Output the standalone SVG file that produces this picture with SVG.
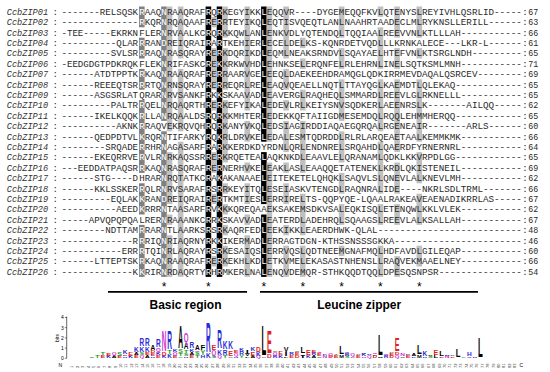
<svg xmlns="http://www.w3.org/2000/svg" width="550" height="372" viewBox="0 0 550 372">
<style>
#alignment text{font-family:"Liberation Mono",monospace;font-size:9.15px}
.s{fill:#2a2a2a}
.w{fill:#fff}
.lab{font-style:italic;fill:#333}
.b{fill:#000}.d{fill:#808080}.l{fill:#c0c0c0}
.star{font-family:"Liberation Sans",Arial,sans-serif;font-size:12px;text-anchor:middle;fill:#000}
.reg{font-family:"Liberation Sans",Arial,sans-serif;font-size:12px;font-weight:bold;text-anchor:middle;fill:#000}
.lg{font-family:"Liberation Sans",Arial,sans-serif;font-weight:bold;font-size:9.1px;text-anchor:middle}
.B{fill:#2b2bd6}.Rd{fill:#e02020}.M{fill:#cc33cc}.G{fill:#2a9d2a}.K{fill:#000}
.ax{font-family:"Liberation Sans",Arial,sans-serif;font-size:5px;fill:#000}
.pn{font-family:"Liberation Sans",Arial,sans-serif;font-size:4px;fill:#333}
</style>
<rect width="550" height="372" fill="#fff"/>
<g id="shading">
<g class="d">
<rect x="139" y="6.5" width="5.6" height="20.8"/><rect x="139" y="37.7" width="5.6" height="20.8"/><rect x="139" y="68.9" width="5.6" height="20.8"/><rect x="139" y="100.1" width="5.6" height="72.8"/><rect x="139" y="183.3" width="5.6" height="31.2"/><rect x="139" y="224.9" width="5.6" height="52"/>
<rect x="161.2" y="6.5" width="5.6" height="114.4"/><rect x="161.2" y="131.3" width="5.6" height="145.6"/>
</g>
<g class="b">
<rect x="205.6" y="6.5" width="5.6" height="270.4"/><rect x="216.7" y="6.5" width="5.6" height="270.4"/>
<rect x="261.1" y="6.5" width="5.6" height="135.2"/><rect x="261.1" y="152.1" width="5.6" height="52"/><rect x="261.1" y="214.5" width="5.6" height="62.4"/>
</g>
<g class="l">
<rect x="166.75" y="6.5" width="5.6" height="124.8"/><rect x="166.75" y="152.1" width="5.6" height="52"/><rect x="166.75" y="214.5" width="5.6" height="10.4"/><rect x="166.75" y="235.3" width="5.6" height="41.6"/>
<rect x="177.85" y="6.5" width="5.6" height="52"/><rect x="177.85" y="68.9" width="5.6" height="62.4"/><rect x="177.85" y="141.7" width="5.6" height="135.2"/>
<rect x="211.15" y="16.9" width="5.6" height="10.4"/><rect x="211.15" y="48.1" width="5.6" height="41.6"/><rect x="211.15" y="100.1" width="5.6" height="10.4"/><rect x="211.15" y="152.1" width="5.6" height="20.8"/><rect x="211.15" y="193.7" width="5.6" height="10.4"/><rect x="211.15" y="256.1" width="5.6" height="10.4"/>
<rect x="222.25" y="6.5" width="5.6" height="31.2"/><rect x="222.25" y="48.1" width="5.6" height="41.6"/><rect x="222.25" y="100.1" width="5.6" height="62.4"/><rect x="222.25" y="183.3" width="5.6" height="10.4"/><rect x="222.25" y="204.1" width="5.6" height="10.4"/><rect x="222.25" y="224.9" width="5.6" height="10.4"/><rect x="222.25" y="245.7" width="5.6" height="20.8"/>
<rect x="244.45" y="6.5" width="5.6" height="104"/><rect x="244.45" y="120.9" width="5.6" height="20.8"/><rect x="244.45" y="162.5" width="5.6" height="10.4"/><rect x="244.45" y="183.3" width="5.6" height="20.8"/><rect x="244.45" y="214.5" width="5.6" height="10.4"/><rect x="244.45" y="235.3" width="5.6" height="41.6"/>
<rect x="266.65" y="6.5" width="5.6" height="135.2"/><rect x="266.65" y="162.5" width="5.6" height="114.4"/>
<rect x="283.3" y="6.5" width="5.6" height="52"/><rect x="283.3" y="68.9" width="5.6" height="20.8"/><rect x="283.3" y="100.1" width="5.6" height="10.4"/><rect x="283.3" y="120.9" width="5.6" height="31.2"/><rect x="283.3" y="162.5" width="5.6" height="10.4"/><rect x="283.3" y="183.3" width="5.6" height="20.8"/><rect x="283.3" y="224.9" width="5.6" height="10.4"/><rect x="283.3" y="245.7" width="5.6" height="31.2"/>
<rect x="299.95" y="37.7" width="5.6" height="10.4"/><rect x="299.95" y="58.5" width="5.6" height="10.4"/><rect x="299.95" y="89.7" width="5.6" height="20.8"/><rect x="299.95" y="120.9" width="5.6" height="52"/><rect x="299.95" y="193.7" width="5.6" height="41.6"/><rect x="299.95" y="245.7" width="5.6" height="31.2"/>
<rect x="338.8" y="6.5" width="5.6" height="31.2"/><rect x="338.8" y="48.1" width="5.6" height="20.8"/><rect x="338.8" y="79.3" width="5.6" height="41.6"/><rect x="338.8" y="131.3" width="5.6" height="31.2"/><rect x="338.8" y="172.9" width="5.6" height="20.8"/><rect x="338.8" y="204.1" width="5.6" height="20.8"/><rect x="338.8" y="245.7" width="5.6" height="10.4"/>
<rect x="377.65" y="6.5" width="5.6" height="10.4"/><rect x="377.65" y="27.3" width="5.6" height="41.6"/><rect x="377.65" y="79.3" width="5.6" height="52"/><rect x="377.65" y="141.7" width="5.6" height="52"/><rect x="377.65" y="204.1" width="5.6" height="20.8"/><rect x="377.65" y="245.7" width="5.6" height="31.2"/>
<rect x="394.3" y="6.5" width="5.6" height="31.2"/><rect x="394.3" y="48.1" width="5.6" height="20.8"/><rect x="394.3" y="79.3" width="5.6" height="72.8"/><rect x="394.3" y="162.5" width="5.6" height="31.2"/><rect x="394.3" y="204.1" width="5.6" height="20.8"/><rect x="394.3" y="256.1" width="5.6" height="20.8"/>
<rect x="416.5" y="6.5" width="5.6" height="31.2"/><rect x="416.5" y="48.1" width="5.6" height="10.4"/><rect x="416.5" y="79.3" width="5.6" height="62.4"/><rect x="416.5" y="152.1" width="5.6" height="31.2"/><rect x="416.5" y="193.7" width="5.6" height="31.2"/><rect x="416.5" y="245.7" width="5.6" height="20.8"/>
</g>
</g>
<g id="alignment">
<g id="r01" transform="translate(0,14.8)"><text class="lab" x="6.7" textLength="41.5" lengthAdjust="spacingAndGlyphs">CcbZIP01</text><text class="s" x="52.5">:</text><text class="s" x="61.45">-------RELSQSK</text><text class="w" x="139.15">R</text><text class="s" x="144.7">AAQ</text><text class="w" x="161.35">N</text><text class="s" x="166.9">RAAQRAF</text><text class="w" x="205.75">R</text><text class="s" x="211.3">Q</text><text class="w" x="216.85">R</text><text class="s" x="222.4">KEGYIKK</text><text class="w" x="261.25">L</text><text class="s" x="266.8" textLength="255" lengthAdjust="spacingAndGlyphs">EQQVR----DYGEMEQQFKVLQTENYSLREYIVHLQSRLID-----</text><text class="s" x="522.3">:</text><text class="s" x="528.3" textLength="10" lengthAdjust="spacingAndGlyphs">67</text></g>
<g id="r02" transform="translate(0,25.2)"><text class="lab" x="6.7" textLength="41.5" lengthAdjust="spacingAndGlyphs">CcbZIP02</text><text class="s" x="52.5">:</text><text class="s" x="61.45">--------------</text><text class="w" x="139.15">R</text><text class="s" x="144.7">KQR</text><text class="w" x="161.35">N</text><text class="s" x="166.9">RQAQAAF</text><text class="w" x="205.75">R</text><text class="s" x="211.3">E</text><text class="w" x="216.85">R</text><text class="s" x="222.4">RTEYIKQ</text><text class="w" x="261.25">L</text><text class="s" x="266.8" textLength="255" lengthAdjust="spacingAndGlyphs">EQTISVQEQTLANLNAAHRTAADECLMLRYKNSLLERILL------</text><text class="s" x="522.3">:</text><text class="s" x="528.3" textLength="10" lengthAdjust="spacingAndGlyphs">63</text></g>
<g id="r03" transform="translate(0,35.6)"><text class="lab" x="6.7" textLength="41.5" lengthAdjust="spacingAndGlyphs">CcbZIP03</text><text class="s" x="52.5">:</text><text class="s" x="61.45">-TEE-----EKRKN</text><text class="s" x="139.15">F</text><text class="s" x="144.7">LER</text><text class="w" x="161.35">N</text><text class="s" x="166.9">RVAALKC</text><text class="w" x="205.75">R</text><text class="s" x="211.3">Q</text><text class="w" x="216.85">R</text><text class="s" x="222.4">KKQWLAN</text><text class="w" x="261.25">L</text><text class="s" x="266.8" textLength="255" lengthAdjust="spacingAndGlyphs">ENKVDLYQTENDQLTQQIAALREEVVNLKTLLLAH-----------</text><text class="s" x="522.3">:</text><text class="s" x="528.3" textLength="10" lengthAdjust="spacingAndGlyphs">66</text></g>
<g id="r04" transform="translate(0,46)"><text class="lab" x="6.7" textLength="41.5" lengthAdjust="spacingAndGlyphs">CcbZIP04</text><text class="s" x="52.5">:</text><text class="s" x="61.45">----------QLAR</text><text class="w" x="139.15">R</text><text class="s" x="144.7">RAN</text><text class="w" x="161.35">D</text><text class="s" x="166.9">REIQRAI</text><text class="w" x="205.75">R</text><text class="s" x="211.3">A</text><text class="w" x="216.85">R</text><text class="s" x="222.4">TKEHIER</text><text class="w" x="261.25">L</text><text class="s" x="266.8" textLength="255" lengthAdjust="spacingAndGlyphs">ECELDELKS-KQNRDETVQDLLLKRNKALECE---LKR-L------</text><text class="s" x="522.3">:</text><text class="s" x="528.3" textLength="10" lengthAdjust="spacingAndGlyphs">61</text></g>
<g id="r05" transform="translate(0,56.4)"><text class="lab" x="6.7" textLength="41.5" lengthAdjust="spacingAndGlyphs">CcbZIP05</text><text class="s" x="52.5">:</text><text class="s" x="61.45">---------SVLSR</text><text class="w" x="139.15">R</text><text class="s" x="144.7">RAQ</text><text class="w" x="161.35">N</text><text class="s" x="166.9">RASQRAY</text><text class="w" x="205.75">R</text><text class="s" x="211.3">E</text><text class="w" x="216.85">R</text><text class="s" x="222.4">KDQRIKD</text><text class="w" x="261.25">L</text><text class="s" x="266.8" textLength="255" lengthAdjust="spacingAndGlyphs">EQMLNEAKSRNDVLSQAYAELHTEFVNLKTSRGLNDH---------</text><text class="s" x="522.3">:</text><text class="s" x="528.3" textLength="10" lengthAdjust="spacingAndGlyphs">65</text></g>
<g id="r06" transform="translate(0,66.8)"><text class="lab" x="6.7" textLength="41.5" lengthAdjust="spacingAndGlyphs">CcbZIP06</text><text class="s" x="52.5">:</text><text class="s" x="61.45">-EEDGDGTPDKRQK</text><text class="s" x="139.15">F</text><text class="s" x="144.7">LEK</text><text class="w" x="161.35">N</text><text class="s" x="166.9">RIFASKC</text><text class="w" x="205.75">R</text><text class="s" x="211.3">E</text><text class="w" x="216.85">K</text><text class="s" x="222.4">KRKWVHD</text><text class="w" x="261.25">L</text><text class="s" x="266.8" textLength="255" lengthAdjust="spacingAndGlyphs">EHNKSELERQNFELRLEHRNLINELSQTKSMLMNH-----------</text><text class="s" x="522.3">:</text><text class="s" x="528.3" textLength="10" lengthAdjust="spacingAndGlyphs">71</text></g>
<g id="r07" transform="translate(0,77.2)"><text class="lab" x="6.7" textLength="41.5" lengthAdjust="spacingAndGlyphs">CcbZIP07</text><text class="s" x="52.5">:</text><text class="s" x="61.45">------ATDTPPTK</text><text class="w" x="139.15">R</text><text class="s" x="144.7">KAQ</text><text class="w" x="161.35">N</text><text class="s" x="166.9">RAAQRAF</text><text class="w" x="205.75">R</text><text class="s" x="211.3">E</text><text class="w" x="216.85">R</text><text class="s" x="222.4">RAARVGE</text><text class="w" x="261.25">L</text><text class="s" x="266.8" textLength="255" lengthAdjust="spacingAndGlyphs">EEQLDAEKEEHDRAMQGLQDKIRRMEVDAQALQSRCEV--------</text><text class="s" x="522.3">:</text><text class="s" x="528.3" textLength="10" lengthAdjust="spacingAndGlyphs">69</text></g>
<g id="r08" transform="translate(0,87.6)"><text class="lab" x="6.7" textLength="41.5" lengthAdjust="spacingAndGlyphs">CcbZIP08</text><text class="s" x="52.5">:</text><text class="s" x="61.45">------REEEQTSR</text><text class="w" x="139.15">R</text><text class="s" x="144.7">RTQ</text><text class="w" x="161.35">N</text><text class="s" x="166.9">RNSQRAY</text><text class="w" x="205.75">R</text><text class="s" x="211.3">E</text><text class="w" x="216.85">R</text><text class="s" x="222.4">REQRLRE</text><text class="w" x="261.25">L</text><text class="s" x="266.8" textLength="255" lengthAdjust="spacingAndGlyphs">EAQVQEAELLNQTLTTAYQGLKAEMDTLQLEKAQ------------</text><text class="s" x="522.3">:</text><text class="s" x="528.3" textLength="10" lengthAdjust="spacingAndGlyphs">65</text></g>
<g id="r09" transform="translate(0,98)"><text class="lab" x="6.7" textLength="41.5" lengthAdjust="spacingAndGlyphs">CcbZIP09</text><text class="s" x="52.5">:</text><text class="s" x="61.45">------ASGSRLAT</text><text class="s" x="139.15">Q</text><text class="s" x="144.7">RAR</text><text class="w" x="161.35">N</text><text class="s" x="166.9">RVSANKF</text><text class="w" x="205.75">R</text><text class="s" x="211.3">K</text><text class="w" x="216.85">K</text><text class="s" x="222.4">SKAAVAD</text><text class="w" x="261.25">L</text><text class="s" x="266.8" textLength="255" lengthAdjust="spacingAndGlyphs">EAVERGLRAQHEQLSMMARDLREEVLGLRKNELLL-----------</text><text class="s" x="522.3">:</text><text class="s" x="528.3" textLength="10" lengthAdjust="spacingAndGlyphs">65</text></g>
<g id="r10" transform="translate(0,108.4)"><text class="lab" x="6.7" textLength="41.5" lengthAdjust="spacingAndGlyphs">CcbZIP10</text><text class="s" x="52.5">:</text><text class="s" x="61.45">---------PALTR</text><text class="w" x="139.15">R</text><text class="s" x="144.7">QEL</text><text class="w" x="161.35">N</text><text class="s" x="166.9">RQAQRTH</text><text class="w" x="205.75">R</text><text class="s" x="211.3">E</text><text class="w" x="216.85">R</text><text class="s" x="222.4">KEFYIKA</text><text class="w" x="261.25">L</text><text class="s" x="266.8" textLength="255" lengthAdjust="spacingAndGlyphs">EDEVLRLKEIYSNVSQDKERLAEENRSLK-------AILQQ-----</text><text class="s" x="522.3">:</text><text class="s" x="528.3" textLength="10" lengthAdjust="spacingAndGlyphs">62</text></g>
<g id="r11" transform="translate(0,118.8)"><text class="lab" x="6.7" textLength="41.5" lengthAdjust="spacingAndGlyphs">CcbZIP11</text><text class="s" x="52.5">:</text><text class="s" x="61.45">------IKELKQQK</text><text class="w" x="139.15">R</text><text class="s" x="144.7">LLA</text><text class="w" x="161.35">N</text><text class="s" x="166.9">RQAALDS</text><text class="w" x="205.75">R</text><text class="s" x="211.3">Q</text><text class="w" x="216.85">R</text><text class="s" x="222.4">KKMHTER</text><text class="w" x="261.25">L</text><text class="s" x="266.8" textLength="255" lengthAdjust="spacingAndGlyphs">EDEKKQFTAIIGDMESEMDQLRQQLEHMMHERQQ------------</text><text class="s" x="522.3">:</text><text class="s" x="528.3" textLength="10" lengthAdjust="spacingAndGlyphs">65</text></g>
<g id="r12" transform="translate(0,129.2)"><text class="lab" x="6.7" textLength="41.5" lengthAdjust="spacingAndGlyphs">CcbZIP12</text><text class="s" x="52.5">:</text><text class="s" x="61.45">----------AKNK</text><text class="w" x="139.15">R</text><text class="s" x="144.7">RAQ</text><text class="s" x="161.35">V</text><text class="s" x="166.9">EKRQVQH</text><text class="w" x="205.75">R</text><text class="s" x="211.3">Q</text><text class="w" x="216.85">R</text><text class="s" x="222.4">KANYVKQ</text><text class="w" x="261.25">L</text><text class="s" x="266.8" textLength="255" lengthAdjust="spacingAndGlyphs">EDSIAGIRDDIAQAEGQRQALRGENEAIR-------ARLS------</text><text class="s" x="522.3">:</text><text class="s" x="528.3" textLength="10" lengthAdjust="spacingAndGlyphs">60</text></g>
<g id="r13" transform="translate(0,139.6)"><text class="lab" x="6.7" textLength="41.5" lengthAdjust="spacingAndGlyphs">CcbZIP13</text><text class="s" x="52.5">:</text><text class="s" x="61.45">------QEDPDTVL</text><text class="w" x="139.15">K</text><text class="s" x="144.7">RQR</text><text class="w" x="161.35">N</text><text class="s" x="166.9">TIFARKY</text><text class="w" x="205.75">R</text><text class="s" x="211.3">Q</text><text class="w" x="216.85">K</text><text class="s" x="222.4">RLDRVKE</text><text class="w" x="261.25">L</text><text class="s" x="266.8" textLength="255" lengthAdjust="spacingAndGlyphs">EDALESMTQDRDDLRLRLARQEAETAALKEMMKMK-----------</text><text class="s" x="522.3">:</text><text class="s" x="528.3" textLength="10" lengthAdjust="spacingAndGlyphs">66</text></g>
<g id="r14" transform="translate(0,150)"><text class="lab" x="6.7" textLength="41.5" lengthAdjust="spacingAndGlyphs">CcbZIP14</text><text class="s" x="52.5">:</text><text class="s" x="61.45">--------SRQADE</text><text class="w" x="139.15">R</text><text class="s" x="144.7">RHR</text><text class="w" x="161.35">N</text><text class="s" x="166.9">AGASARF</text><text class="w" x="205.75">R</text><text class="s" x="211.3">A</text><text class="w" x="216.85">R</text><text class="s" x="222.4">KKERDKD</text><text class="s" x="261.25">Y</text><text class="s" x="266.8" textLength="255" lengthAdjust="spacingAndGlyphs">RDNLQRLENDNRELSRQAHDLQAERDFYRNERNRL-----------</text><text class="s" x="522.3">:</text><text class="s" x="528.3" textLength="10" lengthAdjust="spacingAndGlyphs">64</text></g>
<g id="r15" transform="translate(0,160.4)"><text class="lab" x="6.7" textLength="41.5" lengthAdjust="spacingAndGlyphs">CcbZIP15</text><text class="s" x="52.5">:</text><text class="s" x="61.45">------EKEQRRVE</text><text class="w" x="139.15">R</text><text class="s" x="144.7">VLR</text><text class="w" x="161.35">N</text><text class="s" x="166.9">RKAQSSR</text><text class="w" x="205.75">R</text><text class="s" x="211.3">E</text><text class="w" x="216.85">R</text><text class="s" x="222.4">KRQETEA</text><text class="w" x="261.25">L</text><text class="s" x="266.8" textLength="255" lengthAdjust="spacingAndGlyphs">AQKNKDLEAAVLELQRANAMLQDKLKKVRPDLGG------------</text><text class="s" x="522.3">:</text><text class="s" x="528.3" textLength="10" lengthAdjust="spacingAndGlyphs">65</text></g>
<g id="r16" transform="translate(0,170.8)"><text class="lab" x="6.7" textLength="41.5" lengthAdjust="spacingAndGlyphs">CcbZIP16</text><text class="s" x="52.5">:</text><text class="s" x="61.45">---EEDDATPAQSR</text><text class="w" x="139.15">R</text><text class="s" x="144.7">KAQ</text><text class="w" x="161.35">N</text><text class="s" x="166.9">RASQRAF</text><text class="w" x="205.75">R</text><text class="s" x="211.3">E</text><text class="w" x="216.85">R</text><text class="s" x="222.4">NERHVKE</text><text class="w" x="261.25">L</text><text class="s" x="266.8" textLength="255" lengthAdjust="spacingAndGlyphs">EAKLASLEAAQQETATENEKLKRDLQKISTENEIL-----------</text><text class="s" x="522.3">:</text><text class="s" x="528.3" textLength="10" lengthAdjust="spacingAndGlyphs">69</text></g>
<g id="r17" transform="translate(0,181.2)"><text class="lab" x="6.7" textLength="41.5" lengthAdjust="spacingAndGlyphs">CcbZIP17</text><text class="s" x="52.5">:</text><text class="s" x="61.45">------STG----D</text><text class="s" x="139.15">H</text><text class="s" x="144.7">RAR</text><text class="w" x="161.35">N</text><text class="s" x="166.9">RQTATKC</text><text class="w" x="205.75">R</text><text class="s" x="211.3">A</text><text class="w" x="216.85">K</text><text class="s" x="222.4">AKANAAE</text><text class="w" x="261.25">L</text><text class="s" x="266.8" textLength="255" lengthAdjust="spacingAndGlyphs">EITEKETELQHQKLSAQVLSLQNEVLALKNEVLMH-----------</text><text class="s" x="522.3">:</text><text class="s" x="528.3" textLength="10" lengthAdjust="spacingAndGlyphs">62</text></g>
<g id="r18" transform="translate(0,191.6)"><text class="lab" x="6.7" textLength="41.5" lengthAdjust="spacingAndGlyphs">CcbZIP18</text><text class="s" x="52.5">:</text><text class="s" x="61.45">------KKLSSKER</text><text class="w" x="139.15">R</text><text class="s" x="144.7">QLR</text><text class="w" x="161.35">N</text><text class="s" x="166.9">RVSARAF</text><text class="w" x="205.75">R</text><text class="s" x="211.3">S</text><text class="w" x="216.85">R</text><text class="s" x="222.4">RKEYITQ</text><text class="w" x="261.25">L</text><text class="s" x="266.8" textLength="255" lengthAdjust="spacingAndGlyphs">ESEIASKVTENGDLRAQNRALIDE----NKRLSDLTRML-------</text><text class="s" x="522.3">:</text><text class="s" x="528.3" textLength="10" lengthAdjust="spacingAndGlyphs">66</text></g>
<g id="r19" transform="translate(0,202)"><text class="lab" x="6.7" textLength="41.5" lengthAdjust="spacingAndGlyphs">CcbZIP19</text><text class="s" x="52.5">:</text><text class="s" x="61.45">---------EQLAK</text><text class="w" x="139.15">K</text><text class="s" x="144.7">RAN</text><text class="w" x="161.35">D</text><text class="s" x="166.9">REIQRAI</text><text class="w" x="205.75">R</text><text class="s" x="211.3">E</text><text class="w" x="216.85">R</text><text class="s" x="222.4">TKMTIES</text><text class="w" x="261.25">L</text><text class="s" x="266.8" textLength="255" lengthAdjust="spacingAndGlyphs">ERRIRELTS-QQPYQE-LQAALRAKEAVEAENADIKRRLAS-----</text><text class="s" x="522.3">:</text><text class="s" x="528.3" textLength="10" lengthAdjust="spacingAndGlyphs">67</text></g>
<g id="r20" transform="translate(0,212.4)"><text class="lab" x="6.7" textLength="41.5" lengthAdjust="spacingAndGlyphs">CcbZIP20</text><text class="s" x="52.5">:</text><text class="s" x="61.45">----------AEED</text><text class="w" x="139.15">K</text><text class="s" x="144.7">RRR</text><text class="w" x="161.35">N</text><text class="s" x="166.9">TAASARF</text><text class="w" x="205.75">R</text><text class="s" x="211.3">V</text><text class="w" x="216.85">K</text><text class="s" x="222.4">KKQREQA</text><text class="s" x="261.25">A</text><text class="s" x="266.8" textLength="255" lengthAdjust="spacingAndGlyphs">EKSAKEMSDKVSALEQKISQLETENQWLKKLVLEK-----------</text><text class="s" x="522.3">:</text><text class="s" x="528.3" textLength="10" lengthAdjust="spacingAndGlyphs">62</text></g>
<g id="r21" transform="translate(0,222.8)"><text class="lab" x="6.7" textLength="41.5" lengthAdjust="spacingAndGlyphs">CcbZIP21</text><text class="s" x="52.5">:</text><text class="s" x="61.45">-----APVQPQPQA</text><text class="s" x="139.15">L</text><text class="s" x="144.7">RER</text><text class="w" x="161.35">N</text><text class="s" x="166.9">RAAANKC</text><text class="w" x="205.75">R</text><text class="s" x="211.3">R</text><text class="w" x="216.85">K</text><text class="s" x="222.4">SKAVVAD</text><text class="w" x="261.25">L</text><text class="s" x="266.8" textLength="255" lengthAdjust="spacingAndGlyphs">EATERDLADEHRQLSQAAGSLREEVLALKSALLAH-----------</text><text class="s" x="522.3">:</text><text class="s" x="528.3" textLength="10" lengthAdjust="spacingAndGlyphs">67</text></g>
<g id="r22" transform="translate(0,233.2)"><text class="lab" x="6.7" textLength="41.5" lengthAdjust="spacingAndGlyphs">CcbZIP22</text><text class="s" x="52.5">:</text><text class="s" x="61.45">--------NDTTAM</text><text class="w" x="139.15">R</text><text class="s" x="144.7">RAR</text><text class="w" x="161.35">N</text><text class="s" x="166.9">TLAARKS</text><text class="w" x="205.75">R</text><text class="s" x="211.3">S</text><text class="w" x="216.85">R</text><text class="s" x="222.4">KAQRFED</text><text class="w" x="261.25">L</text><text class="s" x="266.8" textLength="255" lengthAdjust="spacingAndGlyphs">EEKIKKLEAERDHWK-QLAL--------------------------</text><text class="s" x="522.3">:</text><text class="s" x="528.3" textLength="10" lengthAdjust="spacingAndGlyphs">48</text></g>
<g id="r23" transform="translate(0,243.6)"><text class="lab" x="6.7" textLength="41.5" lengthAdjust="spacingAndGlyphs">CcbZIP23</text><text class="s" x="52.5">:</text><text class="s" x="61.45">-------------R</text><text class="w" x="139.15">R</text><text class="s" x="144.7">RIQ</text><text class="w" x="161.35">N</text><text class="s" x="166.9">RIAQRNY</text><text class="w" x="205.75">R</text><text class="s" x="211.3">K</text><text class="w" x="216.85">K</text><text class="s" x="222.4">IKERMAD</text><text class="w" x="261.25">L</text><text class="s" x="266.8" textLength="255" lengthAdjust="spacingAndGlyphs">ERRAGTDGN-KTHSSNSSSGKKA-----------------------</text><text class="s" x="522.3">:</text><text class="s" x="528.3" textLength="10" lengthAdjust="spacingAndGlyphs">46</text></g>
<g id="r24" transform="translate(0,254)"><text class="lab" x="6.7" textLength="41.5" lengthAdjust="spacingAndGlyphs">CcbZIP24</text><text class="s" x="52.5">:</text><text class="s" x="61.45">-----------ERR</text><text class="w" x="139.15">R</text><text class="s" x="144.7">TQI</text><text class="w" x="161.35">N</text><text class="s" x="166.9">RLAQRAY</text><text class="w" x="205.75">R</text><text class="s" x="211.3">S</text><text class="w" x="216.85">R</text><text class="s" x="222.4">KESAIQS</text><text class="w" x="261.25">L</text><text class="s" x="266.8" textLength="255" lengthAdjust="spacingAndGlyphs">ERRVQSLQDTNEEMGNAFMQLHDFAVDLGILEQAP-----------</text><text class="s" x="522.3">:</text><text class="s" x="528.3" textLength="10" lengthAdjust="spacingAndGlyphs">60</text></g>
<g id="r25" transform="translate(0,264.4)"><text class="lab" x="6.7" textLength="41.5" lengthAdjust="spacingAndGlyphs">CcbZIP25</text><text class="s" x="52.5">:</text><text class="s" x="61.45">------LTTEPTSK</text><text class="w" x="139.15">R</text><text class="s" x="144.7">KAQ</text><text class="w" x="161.35">N</text><text class="s" x="166.9">RAAQRAF</text><text class="w" x="205.75">R</text><text class="s" x="211.3">E</text><text class="w" x="216.85">R</text><text class="s" x="222.4">KEKHLKD</text><text class="w" x="261.25">L</text><text class="s" x="266.8" textLength="255" lengthAdjust="spacingAndGlyphs">ETKVMELEKASASTNHENSLLRAQVEKMAAELNEY-----------</text><text class="s" x="522.3">:</text><text class="s" x="528.3" textLength="10" lengthAdjust="spacingAndGlyphs">66</text></g>
<g id="r26" transform="translate(0,274.8)"><text class="lab" x="6.7" textLength="41.5" lengthAdjust="spacingAndGlyphs">CcbZIP26</text><text class="s" x="52.5">:</text><text class="s" x="61.45">-------------K</text><text class="w" x="139.15">K</text><text class="s" x="144.7">RIR</text><text class="w" x="161.35">N</text><text class="s" x="166.9">RDAQRTY</text><text class="w" x="205.75">R</text><text class="s" x="211.3">H</text><text class="w" x="216.85">R</text><text class="s" x="222.4">MKERLNA</text><text class="w" x="261.25">L</text><text class="s" x="266.8" textLength="255" lengthAdjust="spacingAndGlyphs">ENQVDEMQR-STHKQQDTQQLDPESQSNPSR---------------</text><text class="s" x="522.3">:</text><text class="s" x="528.3" textLength="10" lengthAdjust="spacingAndGlyphs">54</text></g>
</g>
<g id="stars">
<text class="star" x="164" y="291">*</text><text class="star" x="208.4" y="291">*</text><text class="star" x="263.9" y="291">*</text><text class="star" x="302.75" y="291">*</text><text class="star" x="341.6" y="291">*</text><text class="star" x="380.45" y="291">*</text><text class="star" x="419.3" y="291">*</text>
</g>
<g id="regions">
<line x1="108" y1="291.8" x2="247" y2="291.8" stroke="#000" stroke-width="1.8"/>
<line x1="260" y1="291.8" x2="478" y2="291.8" stroke="#000" stroke-width="1.8"/>
<text class="reg" x="185.5" y="308.5">Basic region</text>
<text class="reg" x="359.2" y="308.5">Leucine zipper</text>
</g>
<g id="logo">
<line x1="66.7" y1="316.5" x2="66.7" y2="358.3" stroke="#000" stroke-width="0.6"/>
<g stroke="#000" stroke-width="0.5"><line x1="64.8" y1="317.5" x2="66.7" y2="317.5"/><line x1="64.8" y1="327.7" x2="66.7" y2="327.7"/><line x1="64.8" y1="337.9" x2="66.7" y2="337.9"/><line x1="64.8" y1="348.1" x2="66.7" y2="348.1"/><line x1="64.8" y1="358.3" x2="66.7" y2="358.3"/></g>
<g class="ax" text-anchor="end"><text x="63.8" y="319.3">4</text><text x="63.8" y="329.5">3</text><text x="63.8" y="339.7">2</text><text x="63.8" y="349.9">1</text><text x="63.8" y="360.1">0</text></g>
<text class="ax" text-anchor="middle" transform="translate(58.5,338) rotate(-90)">bits</text>
<text class="ax" x="58.5" y="367">N</text>
<text class="ax" x="519.5" y="367">C</text>
<g id="letters">
<text class="lg G" transform="translate(91.85,358) scale(.78,.279)">S</text>
<text class="lg G" transform="translate(97.4,358) scale(.85,.419)">T</text>
<text class="lg Rd" transform="translate(102.95,358) scale(.78,.419)">E</text><text class="lg G" transform="translate(102.95,355) scale(.85,.419)">T</text>
<text class="lg B" transform="translate(108.5,358) scale(.72,.349)">K</text><text class="lg Rd" transform="translate(108.5,355.5) scale(.78,.419)">E</text>
<text class="lg K" transform="translate(114.05,358) scale(.72,.419)">A</text><text class="lg M" transform="translate(114.05,355) scale(.67,.419)">Q</text>
<text class="lg Rd" transform="translate(119.6,358) scale(.78,.349)">E</text><text class="lg G" transform="translate(119.6,355.5) scale(.78,.489)">S</text>
<text class="lg B" transform="translate(125.15,358) scale(.72,.279)">R</text><text class="lg Rd" transform="translate(125.15,356) scale(.78,.279)">E</text><text class="lg B" transform="translate(125.15,354) scale(.72,.559)">K</text>
<text class="lg B" transform="translate(130.7,358) scale(.72,.349)">K</text><text class="lg Rd" transform="translate(130.7,355.5) scale(.78,.489)">E</text>
<text class="lg Rd" transform="translate(136.25,358) scale(.78,.419)">E</text><text class="lg K" transform="translate(136.25,355) scale(.72,.419)">A</text><text class="lg B" transform="translate(136.25,352) scale(.72,.698)">K</text>
<text class="lg M" transform="translate(141.8,358) scale(.67,.419)">Q</text><text class="lg G" transform="translate(141.8,355) scale(.78,.419)">S</text><text class="lg B" transform="translate(141.8,352) scale(.72,.698)">K</text><text class="lg B" transform="translate(141.8,346.4) scale(.72,1.117)">R</text>
<text class="lg K" transform="translate(147.35,358) scale(.72,.419)">A</text><text class="lg Rd" transform="translate(147.35,355) scale(.78,.419)">E</text><text class="lg B" transform="translate(147.35,352) scale(.72,.698)">K</text><text class="lg B" transform="translate(147.35,346.4) scale(.72,1.117)">R</text>
<text class="lg B" transform="translate(152.9,358) scale(.72,.279)">R</text><text class="lg Rd" transform="translate(152.9,356) scale(.78,.419)">E</text><text class="lg Rd" transform="translate(152.9,353) scale(.72,.419)">D</text><text class="lg K" transform="translate(152.9,349.6) scale(.72,.838)">A</text>
<text class="lg Rd" transform="translate(158.45,358) scale(.78,.419)">E</text><text class="lg B" transform="translate(158.45,355) scale(.72,.419)">K</text><text class="lg M" transform="translate(158.45,352) scale(.67,.559)">Q</text><text class="lg B" transform="translate(158.45,347.4) scale(.72,1.117)">R</text>
<text class="lg B" transform="translate(164,358) scale(.72,.349)">K</text><text class="lg Rd" transform="translate(164,355.5) scale(.72,.489)">D</text><text class="lg M" transform="translate(164,351) scale(.72,3.212)">N</text>
<text class="lg B" transform="translate(169.55,358) scale(.72,.559)">K</text><text class="lg G" transform="translate(169.55,354) scale(.85,.559)">T</text><text class="lg B" transform="translate(169.55,349) scale(.72,2.933)">R</text>
<text class="lg Rd" transform="translate(175.1,358) scale(.78,.419)">E</text><text class="lg M" transform="translate(175.1,355) scale(.67,.419)">Q</text><text class="lg B" transform="translate(175.1,352) scale(.72,.419)">K</text>
<text class="lg G" transform="translate(180.65,358) scale(.67,.279)">G</text><text class="lg G" transform="translate(180.65,356) scale(.85,.419)">T</text><text class="lg G" transform="translate(180.65,353) scale(.78,.559)">S</text><text class="lg K" transform="translate(180.65,348) scale(.72,3.352)">A</text>
<text class="lg B" transform="translate(186.2,358) scale(.72,.279)">R</text><text class="lg G" transform="translate(186.2,356) scale(.78,.419)">S</text><text class="lg G" transform="translate(186.2,353) scale(.85,.419)">T</text><text class="lg K" transform="translate(186.2,349.4) scale(.72,.978)">A</text><text class="lg M" transform="translate(186.2,342.2) scale(.67,1.397)">Q</text>
<text class="lg Rd" transform="translate(191.75,358) scale(.78,.419)">E</text><text class="lg K" transform="translate(191.75,355) scale(.72,.419)">A</text><text class="lg B" transform="translate(191.75,352) scale(.72,.419)">K</text><text class="lg B" transform="translate(191.75,348.4) scale(.72,.978)">R</text>
<text class="lg G" transform="translate(197.3,358) scale(.85,.419)">T</text><text class="lg G" transform="translate(197.3,355) scale(.78,.419)">S</text><text class="lg M" transform="translate(197.3,352) scale(.67,.279)">Q</text><text class="lg K" transform="translate(197.3,350) scale(.72,.698)">A</text>
<text class="lg B" transform="translate(202.85,358) scale(.72,.419)">H</text><text class="lg G" transform="translate(202.85,355) scale(.78,.698)">Y</text><text class="lg K" transform="translate(202.85,349.6) scale(.85,.698)">F</text>
<text class="lg B" transform="translate(208.4,358) scale(.72,.698)">K</text><text class="lg B" transform="translate(208.4,352) scale(.72,4.609)">R</text>
<text class="lg G" transform="translate(213.95,358) scale(.78,.419)">S</text><text class="lg M" transform="translate(213.95,355) scale(.67,.698)">Q</text><text class="lg Rd" transform="translate(213.95,349.6) scale(.78,.838)">E</text>
<text class="lg M" transform="translate(219.5,358) scale(.67,.419)">Q</text><text class="lg B" transform="translate(219.5,355) scale(.72,.838)">K</text><text class="lg B" transform="translate(219.5,348) scale(.72,2.933)">R</text>
<text class="lg G" transform="translate(225.05,358) scale(.85,.419)">T</text><text class="lg B" transform="translate(225.05,355) scale(.72,.698)">R</text><text class="lg B" transform="translate(225.05,349.4) scale(.72,1.117)">K</text>
<text class="lg K" transform="translate(230.6,358) scale(.72,.279)">A</text><text class="lg Rd" transform="translate(230.6,356) scale(.78,.838)">E</text><text class="lg B" transform="translate(230.6,349.4) scale(.72,1.117)">K</text>
<text class="lg B" transform="translate(236.15,358) scale(.72,.279)">R</text><text class="lg M" transform="translate(236.15,356) scale(.67,.419)">Q</text><text class="lg Rd" transform="translate(236.15,353) scale(.78,.419)">E</text>
<text class="lg G" transform="translate(241.7,358) scale(.78,.419)">Y</text><text class="lg B" transform="translate(241.7,355) scale(.72,.559)">R</text><text class="lg B" transform="translate(241.7,351) scale(.72,.419)">K</text>
<text class="lg K" transform="translate(247.25,358) scale(.85,.279)">L</text><text class="lg K" transform="translate(247.25,356) scale(.78,.349)">V</text><text class="lg K" transform="translate(247.25,353.5) scale(1.2,.559)">I</text>
<text class="lg K" transform="translate(252.8,358) scale(.72,.349)">A</text><text class="lg Rd" transform="translate(252.8,355.5) scale(.78,.628)">E</text><text class="lg B" transform="translate(252.8,351) scale(.72,.559)">K</text>
<text class="lg M" transform="translate(258.35,358) scale(.67,.349)">Q</text><text class="lg B" transform="translate(258.35,355.5) scale(.72,.489)">K</text><text class="lg Rd" transform="translate(258.35,352) scale(.72,.698)">D</text>
<text class="lg K" transform="translate(263.9,358) scale(.72,.279)">A</text><text class="lg K" transform="translate(263.9,355) scale(.85,4.609)">L</text>
<text class="lg Rd" transform="translate(269.45,358) scale(.72,.559)">D</text><text class="lg Rd" transform="translate(269.45,353) scale(.78,3.352)">E</text>
<text class="lg B" transform="translate(275,358) scale(.72,.419)">R</text><text class="lg M" transform="translate(275,355) scale(.67,.419)">Q</text><text class="lg G" transform="translate(275,352) scale(.78,.279)">S</text>
<text class="lg B" transform="translate(280.55,358) scale(.72,.419)">K</text><text class="lg Rd" transform="translate(280.55,355) scale(.78,.559)">E</text>
<text class="lg K" transform="translate(286.1,358) scale(.85,.279)">L</text><text class="lg K" transform="translate(286.1,356) scale(1.2,.559)">I</text><text class="lg K" transform="translate(286.1,352) scale(.78,.698)">V</text>
<text class="lg Rd" transform="translate(291.65,358) scale(.78,.419)">E</text><text class="lg B" transform="translate(291.65,355) scale(.72,.419)">R</text>
<text class="lg Rd" transform="translate(297.2,358) scale(.72,.419)">D</text><text class="lg Rd" transform="translate(297.2,355) scale(.78,.419)">E</text><text class="lg G" transform="translate(297.2,352) scale(.78,.279)">S</text>
<text class="lg K" transform="translate(302.75,358) scale(1.2,.349)">I</text><text class="lg K" transform="translate(302.75,355.5) scale(.62,.279)">M</text><text class="lg K" transform="translate(302.75,352.9) scale(.85,.978)">L</text>
<text class="lg B" transform="translate(308.3,358) scale(.72,.419)">K</text><text class="lg Rd" transform="translate(308.3,354.6) scale(.78,.838)">E</text>
<text class="lg K" transform="translate(313.85,358) scale(.72,.419)">A</text><text class="lg B" transform="translate(313.85,355) scale(.72,.349)">R</text><text class="lg Rd" transform="translate(313.85,352.5) scale(.78,.349)">E</text>
<text class="lg G" transform="translate(319.4,358) scale(.78,.279)">S</text><text class="lg Rd" transform="translate(319.4,356) scale(.78,.419)">E</text><text class="lg M" transform="translate(319.4,353) scale(.67,.279)">Q</text>
<text class="lg M" transform="translate(324.95,358) scale(.72,.419)">N</text><text class="lg B" transform="translate(324.95,355) scale(.72,.279)">K</text>
<text class="lg Rd" transform="translate(330.5,358) scale(.72,.349)">D</text><text class="lg M" transform="translate(330.5,355.5) scale(.67,.419)">Q</text>
<text class="lg Rd" transform="translate(336.05,358) scale(.78,.419)">E</text><text class="lg G" transform="translate(336.05,355) scale(.85,.279)">T</text>
<text class="lg K" transform="translate(341.6,358) scale(.62,.419)">M</text><text class="lg K" transform="translate(341.6,354.4) scale(.85,1.117)">L</text>
<text class="lg G" transform="translate(347.15,358) scale(.78,.349)">S</text><text class="lg B" transform="translate(347.15,355.5) scale(.72,.419)">R</text><text class="lg M" transform="translate(347.15,352.5) scale(.67,.279)">Q</text>
<text class="lg K" transform="translate(352.7,358) scale(.72,.279)">A</text><text class="lg M" transform="translate(352.7,356) scale(.67,.419)">Q</text>
<text class="lg Rd" transform="translate(358.25,358) scale(.78,.419)">E</text><text class="lg K" transform="translate(358.25,355) scale(.72,.279)">A</text>
<text class="lg M" transform="translate(363.8,358) scale(.72,.279)">N</text><text class="lg B" transform="translate(363.8,356) scale(.72,.349)">K</text><text class="lg K" transform="translate(363.8,353.5) scale(.72,.279)">A</text>
<text class="lg M" transform="translate(369.35,358) scale(.67,.419)">Q</text><text class="lg B" transform="translate(369.35,355) scale(.72,.279)">R</text>
<text class="lg Rd" transform="translate(374.9,358) scale(.72,.349)">D</text><text class="lg K" transform="translate(374.9,355.5) scale(.72,.279)">A</text><text class="lg M" transform="translate(374.9,353.5) scale(.67,.279)">Q</text>
<text class="lg K" transform="translate(380.45,358) scale(.62,.279)">M</text><text class="lg K" transform="translate(380.45,355) scale(.85,3.212)">L</text>
<text class="lg B" transform="translate(386,358) scale(.72,.419)">R</text><text class="lg M" transform="translate(386,355) scale(.67,.279)">Q</text>
<text class="lg Rd" transform="translate(391.55,358) scale(.72,.349)">D</text><text class="lg Rd" transform="translate(391.55,355.5) scale(.78,.349)">E</text><text class="lg K" transform="translate(391.55,353) scale(.72,.279)">A</text>
<text class="lg M" transform="translate(397.1,358) scale(.67,.419)">Q</text><text class="lg Rd" transform="translate(397.1,355) scale(.72,.419)">D</text><text class="lg Rd" transform="translate(397.1,351) scale(.78,2.095)">E</text>
<text class="lg K" transform="translate(402.65,358) scale(.78,.279)">V</text><text class="lg M" transform="translate(402.65,356) scale(.72,.419)">N</text>
<text class="lg Rd" transform="translate(408.2,358) scale(.78,.419)">E</text><text class="lg B" transform="translate(408.2,355) scale(.72,.279)">K</text>
<text class="lg B" transform="translate(413.75,358) scale(.72,.279)">K</text><text class="lg K" transform="translate(413.75,356) scale(.72,.349)">A</text>
<text class="lg K" transform="translate(419.3,358) scale(.62,.419)">M</text><text class="lg K" transform="translate(419.3,354.4) scale(.85,1.397)">L</text>
<text class="lg B" transform="translate(424.85,358) scale(.72,.279)">R</text><text class="lg B" transform="translate(424.85,356) scale(.72,.698)">K</text>
<text class="lg G" transform="translate(430.4,358) scale(.78,.349)">S</text><text class="lg K" transform="translate(430.4,355.5) scale(.72,.279)">A</text>
<text class="lg K" transform="translate(435.95,358) scale(.85,.419)">L</text><text class="lg Rd" transform="translate(435.95,354.6) scale(.78,.838)">E</text>
<text class="lg Rd" transform="translate(441.5,358) scale(.78,.279)">E</text><text class="lg K" transform="translate(441.5,356) scale(.85,.698)">L</text>
<text class="lg M" transform="translate(447.05,358) scale(.72,.349)">N</text><text class="lg B" transform="translate(447.05,355.5) scale(.72,.279)">R</text>
<text class="lg Rd" transform="translate(452.6,358) scale(.72,.279)">D</text><text class="lg B" transform="translate(452.6,356) scale(.72,.279)">K</text>
<text class="lg K" transform="translate(458.15,357.4) scale(.85,1.117)">L</text>
<text class="lg G" transform="translate(463.7,358) scale(.67,.279)">G</text>
<text class="lg M" transform="translate(469.25,358) scale(.67,.279)">Q</text><text class="lg B" transform="translate(469.25,356) scale(.72,.559)">H</text>
<text class="lg B" transform="translate(474.8,358) scale(.72,.279)">R</text>
<text class="lg K" transform="translate(480.35,357) scale(.85,3.073)">L</text>
</g>
<g id="positions" class="pn">
<text transform="translate(73.4,368) rotate(-90)">1</text><text transform="translate(78.8,368) rotate(-90)">2</text><text transform="translate(84.2,368) rotate(-90)">3</text><text transform="translate(89.6,368) rotate(-90)">4</text><text transform="translate(95,368) rotate(-90)">5</text><text transform="translate(100.4,368) rotate(-90)">6</text><text transform="translate(105.8,368) rotate(-90)">7</text><text transform="translate(111.2,368) rotate(-90)">8</text><text transform="translate(116.6,368) rotate(-90)">9</text><text transform="translate(122,368) rotate(-90)">10</text>
<text transform="translate(127.4,368) rotate(-90)">11</text><text transform="translate(132.8,368) rotate(-90)">12</text><text transform="translate(138.2,368) rotate(-90)">13</text><text transform="translate(143.6,368) rotate(-90)">14</text><text transform="translate(149,368) rotate(-90)">15</text><text transform="translate(154.4,368) rotate(-90)">16</text><text transform="translate(159.8,368) rotate(-90)">17</text><text transform="translate(165.2,368) rotate(-90)">18</text><text transform="translate(170.6,368) rotate(-90)">19</text><text transform="translate(176,368) rotate(-90)">20</text>
<text transform="translate(181.4,368) rotate(-90)">21</text><text transform="translate(186.8,368) rotate(-90)">22</text><text transform="translate(192.2,368) rotate(-90)">23</text><text transform="translate(197.6,368) rotate(-90)">24</text><text transform="translate(203,368) rotate(-90)">25</text><text transform="translate(208.4,368) rotate(-90)">26</text><text transform="translate(213.8,368) rotate(-90)">27</text><text transform="translate(219.2,368) rotate(-90)">28</text><text transform="translate(224.6,368) rotate(-90)">29</text><text transform="translate(230,368) rotate(-90)">30</text>
<text transform="translate(235.4,368) rotate(-90)">31</text><text transform="translate(240.8,368) rotate(-90)">32</text><text transform="translate(246.2,368) rotate(-90)">33</text><text transform="translate(251.6,368) rotate(-90)">34</text><text transform="translate(257,368) rotate(-90)">35</text><text transform="translate(262.4,368) rotate(-90)">36</text><text transform="translate(267.8,368) rotate(-90)">37</text><text transform="translate(273.2,368) rotate(-90)">38</text><text transform="translate(278.6,368) rotate(-90)">39</text><text transform="translate(284,368) rotate(-90)">40</text>
<text transform="translate(289.4,368) rotate(-90)">41</text><text transform="translate(294.8,368) rotate(-90)">42</text><text transform="translate(300.2,368) rotate(-90)">43</text><text transform="translate(305.6,368) rotate(-90)">44</text><text transform="translate(311,368) rotate(-90)">45</text><text transform="translate(316.4,368) rotate(-90)">46</text><text transform="translate(321.8,368) rotate(-90)">47</text><text transform="translate(327.2,368) rotate(-90)">48</text><text transform="translate(332.6,368) rotate(-90)">49</text><text transform="translate(338,368) rotate(-90)">50</text>
<text transform="translate(343.4,368) rotate(-90)">51</text><text transform="translate(348.8,368) rotate(-90)">52</text><text transform="translate(354.2,368) rotate(-90)">53</text><text transform="translate(359.6,368) rotate(-90)">54</text><text transform="translate(365,368) rotate(-90)">55</text><text transform="translate(370.4,368) rotate(-90)">56</text><text transform="translate(375.8,368) rotate(-90)">57</text><text transform="translate(381.2,368) rotate(-90)">58</text><text transform="translate(386.6,368) rotate(-90)">59</text><text transform="translate(392,368) rotate(-90)">60</text>
<text transform="translate(397.4,368) rotate(-90)">61</text><text transform="translate(402.8,368) rotate(-90)">62</text><text transform="translate(408.2,368) rotate(-90)">63</text><text transform="translate(413.6,368) rotate(-90)">64</text><text transform="translate(419,368) rotate(-90)">65</text><text transform="translate(424.4,368) rotate(-90)">66</text><text transform="translate(429.8,368) rotate(-90)">67</text><text transform="translate(435.2,368) rotate(-90)">68</text><text transform="translate(440.6,368) rotate(-90)">69</text><text transform="translate(446,368) rotate(-90)">70</text>
<text transform="translate(451.4,368) rotate(-90)">71</text><text transform="translate(456.8,368) rotate(-90)">72</text><text transform="translate(462.2,368) rotate(-90)">73</text><text transform="translate(467.6,368) rotate(-90)">74</text><text transform="translate(473,368) rotate(-90)">75</text><text transform="translate(478.4,368) rotate(-90)">76</text><text transform="translate(483.8,368) rotate(-90)">77</text><text transform="translate(489.2,368) rotate(-90)">78</text><text transform="translate(494.6,368) rotate(-90)">79</text><text transform="translate(500,368) rotate(-90)">80</text>
<text transform="translate(505.4,368) rotate(-90)">81</text><text transform="translate(510.8,368) rotate(-90)">82</text><text transform="translate(516.2,368) rotate(-90)">83</text>
</g>
</g>
</svg>
